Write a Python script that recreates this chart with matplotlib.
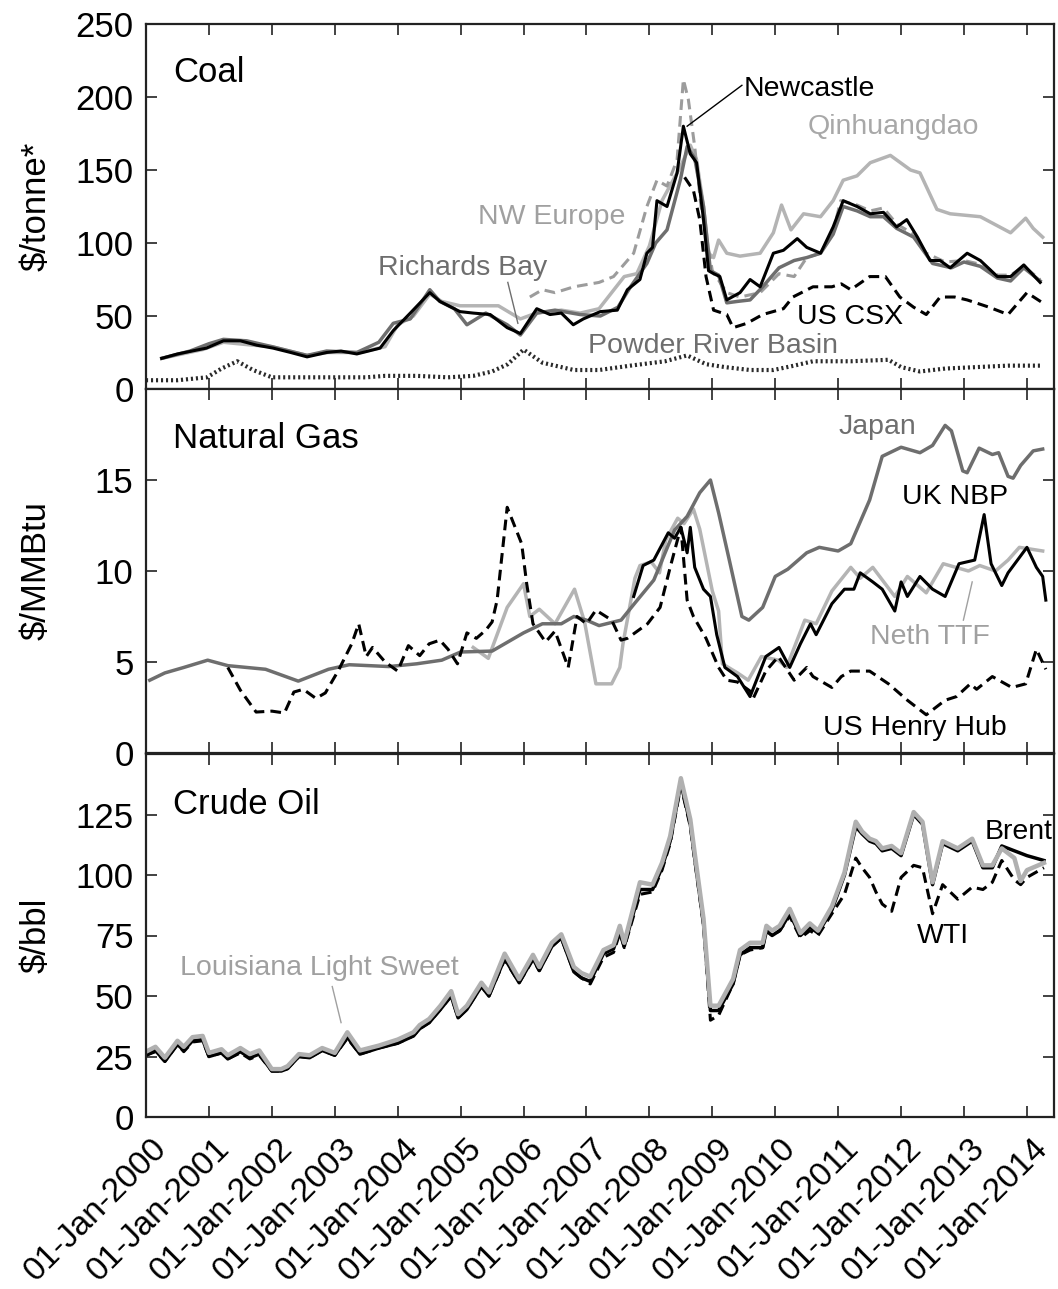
import matplotlib
matplotlib.use("Agg")
import matplotlib.pyplot as plt
import matplotlib.transforms as mtransforms

plt.rcParams['font.family'] = ['Liberation Sans', 'DejaVu Sans']

# ---------------- Coal ($/tonne) ----------------
newc_t = [2000.25, 2000.5, 2000.96, 2001.23, 2001.5, 2001.76, 2002.02, 2002.3, 2002.56, 2002.87,
          2003.1, 2003.35, 2003.72, 2003.93, 2004.2, 2004.51, 2004.67, 2004.99, 2005.2, 2005.47,
          2005.74, 2005.95, 2006.21, 2006.42, 2006.6, 2006.79, 2006.95, 2007.22, 2007.49, 2007.65,
          2007.85, 2007.96, 2008.05, 2008.12, 2008.28, 2008.44, 2008.54, 2008.65, 2008.75, 2008.86,
          2008.94, 2009.02, 2009.12, 2009.23, 2009.44, 2009.6, 2009.76, 2009.97, 2010.13, 2010.35,
          2010.5, 2010.72, 2010.92, 2011.08, 2011.3, 2011.51, 2011.72, 2011.93, 2012.09, 2012.26,
          2012.46, 2012.62, 2012.78, 2013.05, 2013.26, 2013.53, 2013.74, 2013.95, 2014.21]
newc_v = [21, 24, 28, 33, 33, 30, 28, 25, 22, 25,
          26, 24, 28, 40, 52, 66, 60, 53, 52, 51,
          42, 38, 55, 51, 52, 44, 48, 53, 54, 68,
          75, 93, 97, 129, 125, 148, 180, 161, 155, 116,
          81, 79, 77, 61, 66, 75, 70, 93, 95, 103,
          97, 93, 111, 129, 125, 120, 121, 111, 116, 104,
          88, 88, 83, 93, 88, 77, 77, 85, 73]

rich_t = [2000.25, 2000.7, 2001.0, 2001.23, 2001.6, 2002.0, 2002.56, 2002.87, 2003.35, 2003.7,
          2003.93, 2004.2, 2004.51, 2004.67, 2004.9, 2005.1, 2005.4, 2005.74, 2005.95, 2006.21,
          2006.5, 2006.9, 2007.22, 2007.5, 2007.7, 2007.96, 2008.1, 2008.28, 2008.49, 2008.6,
          2008.72, 2008.86, 2008.97, 2009.1, 2009.23, 2009.4, 2009.6, 2009.8, 2010.06, 2010.3,
          2010.5, 2010.72, 2010.92, 2011.08, 2011.3, 2011.51, 2011.72, 2011.93, 2012.2, 2012.5,
          2012.8, 2013.0, 2013.26, 2013.53, 2013.74, 2013.95, 2014.21]
rich_v = [21, 26, 31, 34, 33, 29, 23, 26, 25, 32,
          45, 48, 68, 60, 55, 44, 52, 44, 37, 52,
          54, 51, 50, 56, 70, 86, 100, 109, 143, 166,
          158, 125, 81, 78, 59, 60, 61, 70, 83, 88,
          90, 93, 106, 125, 122, 118, 118, 110, 104, 86,
          83, 87, 84, 76, 74, 83, 74]

qinh_t = [2000.25, 2000.9, 2001.23, 2001.7, 2002.0, 2002.56, 2002.9, 2003.4, 2003.8, 2004.0,
          2004.25, 2004.51, 2004.7, 2004.99, 2005.3, 2005.6, 2005.95, 2006.2, 2006.6, 2006.9,
          2007.2, 2007.6, 2007.8, 2008.0, 2008.2, 2008.49, 2008.65, 2008.75, 2008.86, 2008.94,
          2009.02, 2009.1, 2009.23, 2009.44, 2009.76, 2009.97, 2010.1, 2010.25, 2010.45, 2010.72,
          2010.92, 2011.08, 2011.3, 2011.51, 2011.83, 2012.15, 2012.3, 2012.57, 2012.78, 2013.26,
          2013.74, 2013.98, 2014.1, 2014.25]
qinh_v = [21, 27, 32, 30, 29, 23, 25, 25, 29, 44,
          50, 65, 60, 57, 57, 57, 48, 52, 54, 52,
          55, 77, 79, 98, 129, 152, 167, 157, 125, 93,
          90, 102, 93, 91, 93, 107, 126, 109, 120, 118,
          129, 143, 146, 155, 160, 150, 148, 123, 120, 118,
          107, 117, 110, 104]

nweu_t = [2006.1, 2006.3, 2006.5, 2006.8, 2007.2, 2007.43, 2007.75, 2007.96, 2008.12, 2008.28,
          2008.44, 2008.54, 2008.62, 2008.72, 2008.82, 2009.0, 2009.23, 2009.44, 2009.76, 2010.06,
          2010.3, 2010.5, 2010.72, 2010.92, 2011.04, 2011.3, 2011.51, 2011.72, 2011.93, 2012.2,
          2012.4, 2012.7, 2013.0, 2013.3, 2013.53, 2013.74, 2013.95, 2014.21]
nweu_v = [63, 68, 66, 70, 73, 77, 93, 125, 143, 139,
          157, 212, 198, 166, 125, 81, 66, 63, 66, 79,
          77, 90, 93, 108, 129, 126, 122, 124, 113, 106,
          93, 87, 88, 85, 78, 78, 84, 75]

csx_t = [2008.56, 2008.7, 2008.8, 2008.9, 2009.02, 2009.23, 2009.33, 2009.55, 2009.8, 2010.13,
         2010.28, 2010.6, 2010.9, 2011.05, 2011.2, 2011.5, 2011.75, 2011.98, 2012.2, 2012.4,
         2012.62, 2012.85, 2013.05, 2013.4, 2013.7, 2014.0, 2014.25]
csx_v = [145, 136, 116, 77, 54, 51, 42, 45, 51, 55,
         63, 70, 70, 72, 68, 77, 77, 63, 56, 51,
         63, 63, 61, 56, 51, 66, 59]

prb_t = [2000.0, 2000.5, 2000.97, 2001.2, 2001.45, 2001.7, 2002.0, 2002.5, 2003.0, 2003.5,
         2003.8, 2004.3, 2004.8, 2005.2, 2005.5, 2005.75, 2006.0, 2006.3, 2006.8, 2007.2,
         2007.7, 2008.25, 2008.6, 2008.9, 2009.2, 2009.6, 2009.97, 2010.3, 2010.6, 2011.2,
         2011.8, 2012.0, 2012.3, 2012.7, 2013.2, 2013.7, 2014.25]
prb_v = [6, 6, 8, 14, 19, 13, 8, 8, 8, 8,
         9, 9, 8, 9, 12, 17, 27, 18, 13, 13,
         16, 19, 23, 17, 15, 13, 13, 16, 19, 19,
         20, 15, 12, 14, 15, 16, 16]

# ---------------- Natural gas ($/MMBtu) ----------------
japan_t = [2000.06, 2000.3, 2000.6, 2000.98, 2001.3, 2001.9, 2002.42, 2002.9, 2003.23, 2003.86,
           2004.3, 2004.7, 2005.0, 2005.5, 2006.0, 2006.3, 2006.6, 2006.8, 2007.0, 2007.2,
           2007.55, 2007.76, 2008.07, 2008.4, 2008.6, 2008.8, 2008.97, 2009.1, 2009.27, 2009.47,
           2009.58, 2009.8, 2010.0, 2010.2, 2010.5, 2010.7, 2011.0, 2011.2, 2011.5, 2011.7,
           2012.0, 2012.3, 2012.5, 2012.7, 2012.8, 2012.98, 2013.05, 2013.24, 2013.45, 2013.55,
           2013.7, 2013.78, 2013.9, 2014.1, 2014.25]
japan_v = [4.0, 4.4, 4.7, 5.1, 4.8, 4.6, 3.95, 4.6, 4.85, 4.75,
           4.9, 5.1, 5.55, 5.6, 6.6, 7.1, 7.1, 7.5, 7.3, 7.0,
           7.3, 8.2, 9.5, 12.25, 13.0, 14.3, 15.0, 13.2, 10.6, 7.5,
           7.3, 8.0, 9.7, 10.1, 11.0, 11.3, 11.1, 11.5, 13.9, 16.3,
           16.8, 16.5, 16.9, 18.0, 17.7, 15.5, 15.4, 16.75, 16.4, 16.5,
           15.2, 15.1, 15.8, 16.6, 16.7]

hh_t = [2001.3, 2001.5, 2001.75, 2002.0, 2002.2, 2002.35, 2002.5, 2002.7, 2002.85, 2003.06,
        2003.27, 2003.38, 2003.5, 2003.6, 2003.8, 2004.0, 2004.17, 2004.35, 2004.5, 2004.67,
        2004.8, 2004.95, 2005.1, 2005.25, 2005.4, 2005.5, 2005.58, 2005.74, 2005.97, 2006.05,
        2006.15, 2006.35, 2006.5, 2006.71, 2006.85, 2007.0, 2007.15, 2007.4, 2007.55, 2007.65,
        2007.97, 2008.17, 2008.33, 2008.5, 2008.6, 2008.7, 2008.9, 2009.1, 2009.23, 2009.4,
        2009.6, 2009.65, 2009.85, 2010.05, 2010.3, 2010.5, 2010.6, 2010.9, 2011.05, 2011.2,
        2011.5, 2011.8, 2012.1, 2012.4, 2012.7, 2012.88, 2013.1, 2013.2, 2013.45, 2013.76,
        2013.98, 2014.15, 2014.3]
hh_v = [4.7, 3.45, 2.25, 2.3, 2.2, 3.35, 3.5, 3.0, 3.3, 4.55,
        6.0, 7.1, 5.3, 5.8, 5.0, 4.5, 5.9, 5.35, 6.0, 6.2,
        5.7, 4.9, 6.6, 6.3, 6.75, 7.2, 8.4, 13.5, 11.5, 9.3,
        7.1, 6.1, 6.7, 4.7, 7.5, 7.1, 7.85, 7.3, 6.2, 6.3,
        7.1, 8.0, 10.2, 12.4, 8.4, 7.5, 6.3, 4.7, 4.0, 3.9,
        3.4, 3.0, 4.5, 5.3, 4.0, 4.7, 4.2, 3.6, 4.2, 4.5,
        4.5, 3.8, 2.9, 2.1, 2.9, 3.1, 3.8, 3.5, 4.2, 3.6,
        3.8, 5.7, 4.6]

nbp_t = [2007.75, 2007.9, 2008.07, 2008.3, 2008.4, 2008.5, 2008.6, 2008.65, 2008.72, 2008.86,
         2008.97, 2009.07, 2009.2, 2009.4, 2009.6, 2009.85, 2010.06, 2010.23, 2010.4, 2010.56,
         2010.65, 2010.9, 2011.1, 2011.25, 2011.35, 2011.55, 2011.7, 2011.9, 2012.0, 2012.1,
         2012.3, 2012.5, 2012.7, 2012.92, 2013.17, 2013.32, 2013.43, 2013.6, 2013.7, 2013.85,
         2014.0, 2014.15, 2014.25, 2014.3]
nbp_v = [8.6, 10.3, 10.6, 12.1, 11.8, 12.4, 11.0, 12.4, 10.2, 9.0,
         8.6, 6.5, 4.7, 4.2, 3.1, 5.3, 5.8, 4.7, 6.0, 7.1,
         6.5, 8.2, 9.0, 9.0, 9.9, 9.4, 9.0, 7.8, 9.4, 8.6,
         9.7, 9.0, 8.6, 10.4, 10.6, 13.1, 10.4, 9.2, 9.9, 10.6,
         11.3, 10.2, 9.7, 8.4]

ttf_t = [2005.2, 2005.44, 2005.74, 2006.0, 2006.1, 2006.25, 2006.5, 2006.81, 2006.97, 2007.15,
         2007.3, 2007.4, 2007.53, 2007.58, 2007.77, 2007.85, 2008.03, 2008.16, 2008.26, 2008.45,
         2008.55, 2008.7, 2008.8, 2009.0, 2009.1, 2009.16, 2009.4, 2009.57, 2009.78, 2010.05,
         2010.18, 2010.47, 2010.65, 2010.9, 2011.2, 2011.35, 2011.55, 2011.9, 2012.1, 2012.4,
         2012.67, 2013.07, 2013.25, 2013.5, 2013.7, 2013.88, 2014.25]
ttf_v = [5.8, 5.2, 8.0, 9.3, 7.5, 7.9, 7.1, 9.0, 7.2, 3.8,
         3.8, 3.8, 4.7, 6.0, 9.6, 10.3, 10.5, 9.9, 11.7, 12.9,
         12.6, 13.4, 12.3, 8.9, 7.8, 4.9, 4.4, 4.0, 5.3, 5.1,
         4.7, 7.3, 7.1, 8.9, 10.2, 9.6, 10.2, 8.6, 9.7, 8.8,
         10.4, 10.0, 10.3, 10.0, 10.6, 11.3, 11.1]

# ---------------- Crude oil ($/bbl) ----------------
oil_t = [2000.0, 2000.15, 2000.3, 2000.5, 2000.6, 2000.74, 2000.9, 2001.0, 2001.2, 2001.3,
         2001.5, 2001.65, 2001.8, 2002.0, 2002.15, 2002.25, 2002.43, 2002.6, 2002.8, 2003.0,
         2003.2, 2003.4, 2003.7, 2004.0, 2004.25, 2004.35, 2004.5, 2004.68, 2004.85, 2004.96,
         2005.1, 2005.33, 2005.45, 2005.7, 2005.93, 2006.15, 2006.25, 2006.45, 2006.6, 2006.8,
         2006.92, 2007.06, 2007.27, 2007.43, 2007.53, 2007.6, 2007.85, 2008.05, 2008.2, 2008.33,
         2008.5, 2008.65, 2008.72, 2008.86, 2008.97, 2009.1, 2009.33, 2009.44, 2009.6, 2009.8,
         2009.86, 2009.95, 2010.07, 2010.23, 2010.4, 2010.55, 2010.68, 2010.9, 2011.1, 2011.28,
         2011.38, 2011.5, 2011.6, 2011.7, 2011.85, 2012.0, 2012.2, 2012.34, 2012.5, 2012.66,
         2012.9, 2013.13, 2013.3, 2013.45, 2013.6, 2013.8, 2013.9, 2014.0, 2014.27]
lls_v = [27, 29, 24.5, 31.5, 29, 33, 33.5, 26.5, 28, 25.5,
         28.5, 26, 27.5, 19.8, 19.8, 21, 26, 25.5, 28.5, 26.5,
         35, 27.5, 29.5, 32, 35, 38, 40.5, 46, 52, 42.5,
         46, 55.5, 51.5, 67.5, 57, 67, 62, 72, 75.5, 62,
         59.5, 58, 69, 71, 79, 72, 97, 96, 105, 116,
         140, 123, 109, 82, 46, 46, 57, 69, 72, 72,
         79, 77, 79, 86, 76, 80, 77, 87, 101, 122,
         118, 115, 114, 111, 112, 109, 126, 122, 97, 114,
         111, 115, 104, 104, 111, 107, 97.5, 102, 105]
brent_v = [25.5, 27.5, 23, 30, 27.5, 31.5, 32, 25, 26.5, 24,
           27, 24.5, 26, 19, 19, 20, 25, 24.5, 27.5, 25.5,
           33, 26, 28.5, 30.5, 33.5, 36.5, 39, 44.5, 50, 41,
           44.5, 54, 50, 65.5, 55.5, 65.5, 60.5, 70.5, 74, 60,
           57.5, 56, 67.5, 69.5, 77, 70.5, 94, 94, 103, 114,
           138, 121, 107, 80, 44, 44, 55, 67, 70, 70,
           77, 75, 77, 84, 75, 78.5, 76, 85.5, 100, 120,
           117, 114, 113, 110, 111, 108, 125, 121, 96, 113,
           110, 114, 103, 103, 112, 110, 109, 108, 106]
wti_v = [25.5, 27, 23, 30, 27, 31, 31.5, 25, 26.5, 24,
         26.5, 24, 25.5, 19, 19, 20, 25, 24.5, 27.5, 25.5,
         32.5, 26, 28.5, 30.5, 33.5, 36.5, 39, 44.5, 50, 41,
         44.5, 54, 50, 65, 55.5, 65, 60.5, 70.5, 74, 60,
         57.5, 55, 66, 68, 76, 70, 92, 93, 102, 113,
         137, 120, 106, 79, 40, 42, 55, 67, 69, 70,
         77, 75, 77, 83, 74, 77, 75, 84, 92, 107,
         103, 99, 93, 88, 85, 99, 104, 103, 84, 96,
         90, 95, 94, 97, 106, 98, 96, 99, 103]

years = list(range(2000, 2015))
year_labels = ['01-Jan-%d' % y for y in years]

# ---------------- styling ----------------
BLACK = '#000000'
DGRAY = '#6e6e6e'
LGRAY = '#b4b4b4'
MGRAY = '#9c9c9c'
LW = 2.2
DASH = (0, (3.5, 2.0))

W, H = 1058, 1289
fig = plt.figure(figsize=(W / 100, H / 100), dpi=100)
left = 146 / W
width = (1054 - 146) / W
ax1 = fig.add_axes([left, 1 - 389 / H, width, (389 - 24) / H])
ax2 = fig.add_axes([left, 1 - 753 / H, width, (753 - 389) / H])
ax3 = fig.add_axes([left, 1 - 1117 / H, width, (1117 - 754) / H])

TICKFS = 25
XTICKFS = 24
ANNFS = 20.5

for ax in (ax1, ax2, ax3):
    ax.set_xlim(2000, 2014.43)
    ax.set_xticks(years)
    ax.tick_params(direction='in', length=8, width=1.2, top=True, right=True,
                   labelsize=TICKFS, color='#222222')
    ax.tick_params(axis='y', pad=9)
    for s in ax.spines.values():
        s.set_linewidth(1.6)
        s.set_color('#222222')

# ---- Coal ----
ax1.plot(prb_t, prb_v, color='#2a2a2a', lw=3.0, linestyle=(0, (0.5, 0.7)))
ax1.plot(qinh_t, qinh_v, color=LGRAY, lw=LW + 0.3)
ax1.plot(nweu_t, nweu_v, color=MGRAY, lw=LW, linestyle=DASH)
ax1.plot(rich_t, rich_v, color=DGRAY, lw=LW + 0.3)
ax1.plot(newc_t, newc_v, color=BLACK, lw=LW)
ax1.plot(csx_t, csx_v, color=BLACK, lw=LW, linestyle=DASH)
ax1.set_ylim(0, 250)
ax1.set_yticks([0, 50, 100, 150, 200, 250])
ax1.tick_params(labelbottom=False)
ax1.set_ylabel('$/tonne*', fontsize=TICKFS)
ax1.text(0.0297, 0.841, 'Coal', transform=ax1.transAxes, fontsize=TICKFS, va='baseline')
ax1.text(2009.49, 201, 'Newcastle', fontsize=ANNFS, color=BLACK, va='baseline')
ax1.plot([2009.47, 2008.6], [208, 180], color=BLACK, lw=1.0)
ax1.text(2010.52, 175, 'Qinhuangdao', fontsize=ANNFS, color='#a8a8a8', va='baseline')
ax1.text(2005.28, 113, 'NW Europe', fontsize=ANNFS, color='#a0a0a0', va='baseline')
ax1.text(2003.69, 78, 'Richards Bay', fontsize=ANNFS, color=DGRAY, va='baseline')
ax1.plot([2005.75, 2005.91], [73, 45], color=DGRAY, lw=1.0)
ax1.text(2010.35, 44.5, 'US CSX', fontsize=ANNFS, color=BLACK, va='baseline')
ax1.text(2007.02, 24.7, 'Powder River Basin', fontsize=ANNFS, color=DGRAY, va='baseline')

# ---- Natural gas ----
ax2.plot(ttf_t, ttf_v, color=LGRAY, lw=LW + 0.3)
ax2.plot(japan_t, japan_v, color=DGRAY, lw=LW + 0.3)
ax2.plot(hh_t, hh_v, color=BLACK, lw=LW, linestyle=DASH)
ax2.plot(nbp_t, nbp_v, color=BLACK, lw=LW)
ax2.set_ylim(0, 20)
ax2.set_yticks([0, 5, 10, 15])
ax2.tick_params(labelbottom=False)
ax2.set_ylabel('$/MMBtu', fontsize=TICKFS)
ax2.text(0.0297, 0.838, 'Natural Gas', transform=ax2.transAxes, fontsize=TICKFS, va='baseline')
ax2.text(2011.0, 17.5, 'Japan', fontsize=ANNFS, color=DGRAY, va='baseline')
ax2.text(2012.02, 13.7, 'UK NBP', fontsize=ANNFS, color=BLACK, va='baseline')
ax2.text(2011.51, 6.0, 'Neth TTF', fontsize=ANNFS, color='#a0a0a0', va='baseline')
ax2.plot([2013.13, 2012.99], [9.4, 7.3], color='#a0a0a0', lw=1.0)
ax2.text(2010.76, 1.0, 'US Henry Hub', fontsize=ANNFS, color=BLACK, va='baseline')

# ---- Crude oil ----
ax3.plot(oil_t, brent_v, color=BLACK, lw=LW + 0.3)
ax3.plot(oil_t, wti_v, color=BLACK, lw=LW, linestyle=DASH)
ax3.plot(oil_t, lls_v, color='#b0b0b0', lw=3.2)
ax3.set_ylim(0, 150)
ax3.set_yticks([0, 25, 50, 75, 100, 125])
ax3.set_ylabel('$/bbl', fontsize=TICKFS)
ax3.text(0.0297, 0.834, 'Crude Oil', transform=ax3.transAxes, fontsize=TICKFS, va='baseline')
ax3.text(2000.54, 58.8, 'Louisiana Light Sweet', fontsize=ANNFS, color='#a0a0a0', va='baseline')
ax3.plot([2002.96, 2003.1], [53.9, 39], color='#a0a0a0', lw=1.0)
ax3.text(2013.33, 114.8, 'Brent', fontsize=ANNFS, color=BLACK, va='baseline')
ax3.text(2012.25, 72, 'WTI', fontsize=ANNFS, color=BLACK, va='baseline')

ax3.set_xticklabels(year_labels, fontsize=XTICKFS)
ax3.tick_params(axis='x', pad=19)
offset = mtransforms.ScaledTranslation(16 / 100, 0, fig.dpi_scale_trans)
for lab in ax3.get_xticklabels():
    lab.set_rotation(45)
    lab.set_ha('right')
    lab.set_va('center')
    lab.set_rotation_mode('anchor')
    lab.set_transform(lab.get_transform() + offset)

for ax in (ax1, ax2, ax3):
    ax.yaxis.set_label_coords((53 - 146) / (1054 - 146), 0.5)

fig.savefig('out.png', dpi=100)
